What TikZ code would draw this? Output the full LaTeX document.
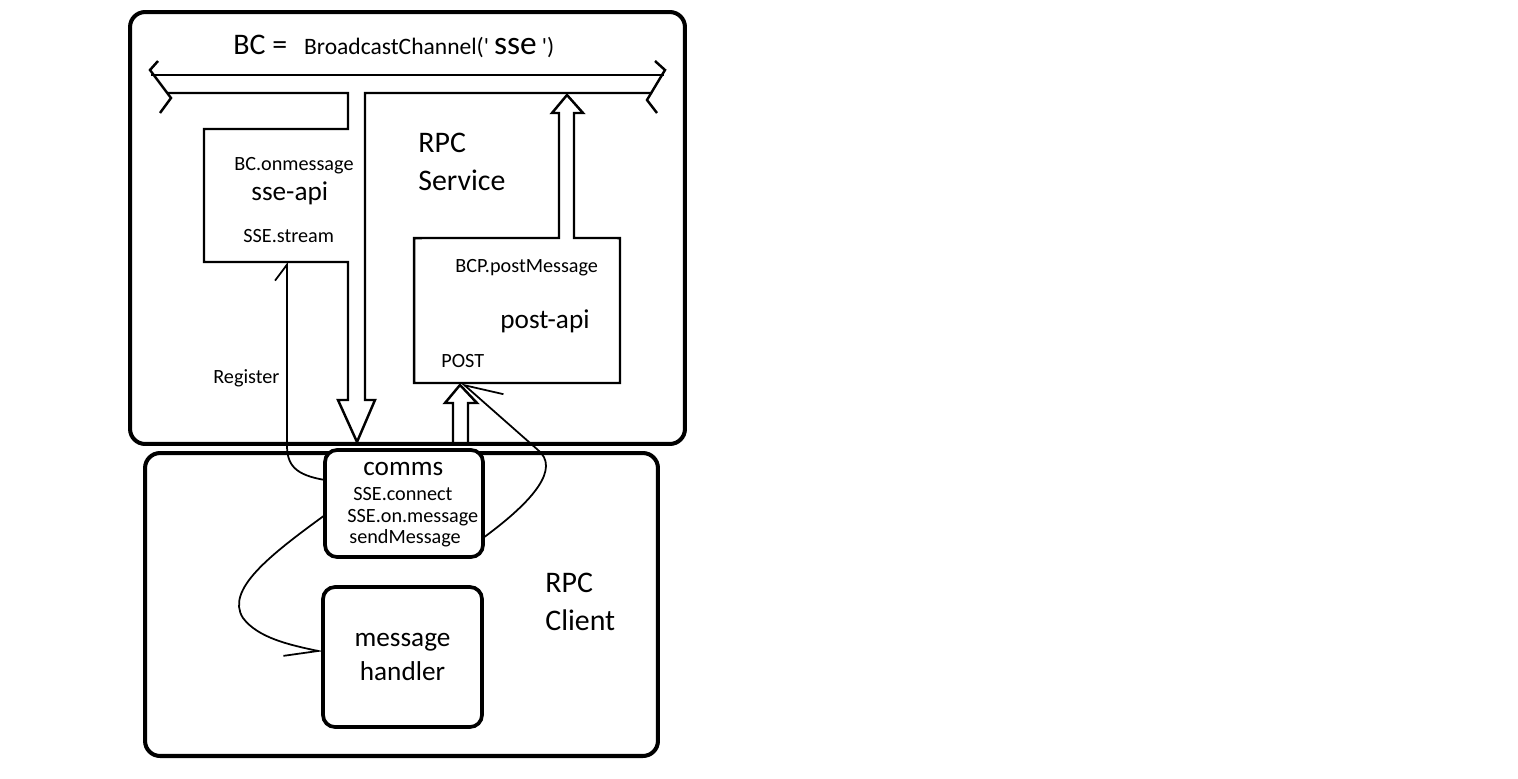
\documentclass[tikz,border=0pt]{standalone}
\usepackage{fontspec}
\setmainfont{Carlito}
\usetikzlibrary{positioning,arrows.meta}

\begin{document}
\begin{tikzpicture}[x=0.02cm, y=-0.02cm,
  frame/.style={draw, line width=2.3pt, rounded corners=3mm, inner sep=0pt, outer sep=0pt},
  part/.style={draw, line width=2.1pt, rounded corners=2.4mm, fill=white, inner sep=0pt,
               outer sep=0pt, align=center},
  area/.style={inner sep=0pt, outer sep=0pt},
  pipe/.style={line width=1.4pt, line join=miter},
  lbl/.style={font=\fontsize{11.5}{14}\selectfont, anchor=base west, inner sep=0pt},
  big/.style={font=\fontsize{15.5}{19.3}\selectfont, inner sep=0pt},
  head/.style={font=\fontsize{17}{21.5}\selectfont, anchor=base west, inner sep=0pt},
  arr/.style={line width=1pt, -{Straight Barb[harpoon, length=3.2mm, width=4.8mm]}},
  ]
  \fill[white] (0,0) rectangle (1518,778);

  \node[frame, minimum width=11.1cm, minimum height=8.64cm] (service) at (407.5,228) {};
  \node[frame, minimum width=10.26cm, minimum height=6.06cm] (client) at (401.5,604.5) {};
  \node[part, minimum width=3.16cm, minimum height=2.14cm] (comms) at (404,503.5) {};
  \node[part, big, minimum width=3.18cm, minimum height=2.8cm] (handler) at (402.5,657) {message\\handler};
  \node[area, minimum width=2.88cm, minimum height=2.66cm] (sseapi) at (276,195.5) {};
  \node[area, minimum width=4.12cm, minimum height=2.9cm] (post) at (517,310.5) {};

  % broadcast channel
  \node[head] (title) at (233,54) {BC =\hspace{3.4mm}{\fontsize{13.4}{16}\selectfont BroadcastChannel(\textquotesingle}\hspace{1mm}{\fontsize{19}{22}\selectfont sse}\hspace{1mm}{\fontsize{13.4}{16}\selectfont\textquotesingle)}};
  \draw[pipe] (158,61) -- (150,70) -- (171,98) -- (160,113);
  \draw[pipe] (655,61) -- (665,70) -- (647,100) -- (657,113);
  \draw[pipe] (151,75) -- (664,75);
  \draw[pipe] (167,93) -- (348,93) -- (sseapi.north east) -- (sseapi.north west) -- (sseapi.south west)
        -- (sseapi.south east) -- (348,400) -- (338,400) -- (357,442) -- (375,400) -- (365,400)
        -- (365,93) -- (652,93);
  \draw[pipe] (574,113) -- (583,113) -- (567,95) -- (552,113) -- (559,113) -- (559,238)
        -- (post.north west) -- (post.south west) -- (post.south east) -- (post.north east)
        -- (574,238) -- cycle;
  \draw[pipe] (453,444) -- (453,403) -- (445,403) -- (460,385) -- (477,403) -- (468,403) -- (468,444);

  \node[head, align=left] (svc) at (418,190) {RPC\\Service};
  \node[head, align=left] (cli) at (545,630) {RPC\\Client};

  \node[lbl] (onmsg) at (234,170) {BC.onmessage};
  \node[big, anchor=base west] (ssename) at (251,200) {sse-api};
  \node[lbl] (stream) at (243,242) {SSE.stream};
  \node[lbl] (bcp) at (455,272) {BCP.postMessage};
  \node[big, anchor=base west] (postname) at (500,328) {post-api};
  \node[lbl] (postm) at (441,367) {POST};
  \node[lbl] (reg) at (213,383) {Register};

  \node[big, anchor=base west] (commsname) at (363,475) {comms};
  \node[lbl] (conn) at (353,500) {SSE.connect};
  \node[lbl] (onm) at (347,522) {SSE.on.message};
  \node[lbl] (send) at (349,543) {sendMessage};

  \draw[arr] ([yshift=0.47cm]comms.west) .. controls (295,475) and (287,465) .. (287,445)
        -- ([xshift=0.22cm]sseapi.south);
  \draw[arr, -{Straight Barb[harpoon, swap, length=6.6mm, width=4.8mm]}]
        ([yshift=-0.23cm]comms.west) .. controls (270,555) and (225,590) .. (243,618)
        .. controls (258,638) and (290,645) .. ([yshift=0.1cm]handler.west);
  \draw[arr, -{Straight Barb[harpoon, swap, length=7mm, width=7.6mm]}]
        ([yshift=-0.69cm]comms.east) .. controls (535,500) and (560,468) .. (538,450)
        -- ([xshift=-1.1cm]post.south);
\end{tikzpicture}
\end{document}
